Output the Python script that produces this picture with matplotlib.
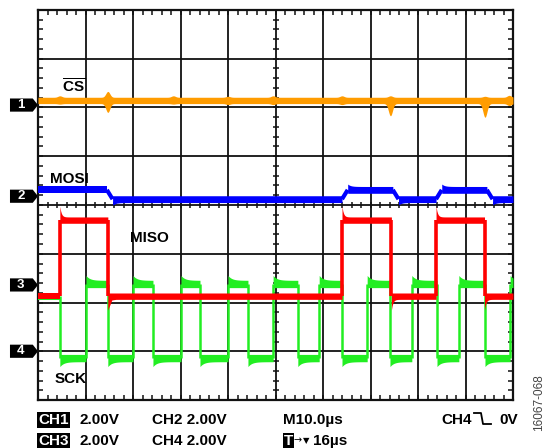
import numpy as np
import matplotlib
matplotlib.use("Agg")
import matplotlib.pyplot as plt
from matplotlib.patches import Polygon
from matplotlib.lines import Line2D
from matplotlib.transforms import blended_transform_factory

plt.rcParams['font.family'] = ['Liberation Sans', 'DejaVu Sans']
plt.rcParams['mathtext.fontset'] = 'custom'
plt.rcParams['mathtext.rm'] = 'Liberation Sans'
plt.rcParams['mathtext.bf'] = 'Liberation Sans:bold'

# scope screen: 10 us/div x 10 div, 8 vertical divisions
t_span = 100.0
n_vdiv = 8

# channel ground markers (divisions from bottom of screen)
gnd_labels = ['1', '2', '3', '4']
gnd_levels = [6.05, 4.18, 2.36, 1.00]

# CH1 - CS (stays low, small glitches)
cs_level = 6.14
cs_glitch_t = [4.6, 14.7, 28.5, 40.0, 49.5, 64.0, 74.2, 94.1, 99.2]
cs_glitch_up = [0.03, 0.12, 0.03, 0.02, 0.03, 0.03, 0.03, 0.02, 0.04]
cs_glitch_dn = [0.01, 0.18, 0.01, 0.02, 0.02, 0.02, 0.25, 0.28, 0.04]

# CH2 - MOSI
mosi_high = 4.31
mosi_low = 4.12
mosi_rise = [64.0, 83.8]
mosi_fall = [14.5, 74.7, 94.5]

# CH3 - MISO
miso_high = 3.69
miso_low = 2.13
miso_rise = [4.6, 64.0, 83.8]
miso_fall = [14.7, 74.4, 94.0]

# CH4 - SCK
sck_idle = 2.13
sck_high = 2.38
sck_low = 0.86
sck_fall = [4.6, 14.7, 24.2, 34.1, 44.2, 54.7, 64.0, 74.1, 84.0, 94.1]
sck_rise = [10.1, 20.0, 30.1, 40.0, 49.5, 59.2, 69.3, 78.7, 88.6, 99.4]

labels = ['CS', 'MOSI', 'MISO', 'SCK']
label_pos = [(5.0, 6.30), (2.5, 4.45), (19.4, 3.24), (3.4, 0.35)]


def build_segments(start, rises, falls, hi, lo):
    edges = sorted([(t, hi) for t in rises] + [(t, lo) for t in falls])
    segs = []
    t0, lvl = 0.0, start
    for t, new in edges:
        segs.append((t0, t, lvl))
        t0, lvl = t, new
    segs.append((t0, t_span, lvl))
    return segs


def draw_trace(ax, segs, color, half, over, tau, ramp, edge_lw, z):
    prev = None
    for t0, t1, lvl in segs:
        start = t0 + (ramp if prev is not None else 0)
        if prev is not None:
            ax.plot([t0, start], [prev, lvl], color=color, lw=edge_lw,
                    zorder=z, solid_capstyle='butt')
        tt = np.linspace(start, t1, 60)
        decay = np.exp(-(tt - start) / tau) if prev is not None else 0 * tt
        upper = lvl + half + np.zeros_like(tt)
        lower = lvl - half + np.zeros_like(tt)
        if prev is not None and lvl > prev:
            upper = upper + over * decay
        elif prev is not None:
            lower = lower - over * decay
        ax.fill_between(tt, lower, upper, color=color, lw=0, zorder=z)
        prev = lvl


fig = plt.figure(figsize=(5.46, 4.48), dpi=100)
ax = fig.add_axes([38 / 546, 48 / 448, 475 / 546, 390 / 448])
ax.set_xlim(0, t_span)
ax.set_ylim(0, n_vdiv)

# graticule
ax.set_xticks(np.arange(0, t_span + 1, 10))
ax.set_yticks(np.arange(0, n_vdiv + 1, 1))
ax.tick_params(labelbottom=False, labelleft=False, length=0)
ax.grid(True, color='#111111', lw=1.3)
for s in ax.spines.values():
    s.set_linewidth(1.6)
    s.set_color('#111111')
xm = np.arange(0, t_span + 0.1, 2)
ym = np.arange(0, n_vdiv + 0.01, 0.2)
# center cross ticks
ax.plot(xm, np.full_like(xm, n_vdiv / 2), ls='none', marker='|', ms=5,
        mew=1.1, color='#111111', zorder=2)
ax.plot(np.full_like(ym, t_span / 2), ym, ls='none', marker='_', ms=5,
        mew=1.1, color='#111111', zorder=2)
# border ticks (outer half clipped away by the axes)
for yb in (0, n_vdiv):
    ax.plot(xm, np.full_like(xm, yb), ls='none', marker='|', ms=7,
            mew=1.1, color='#111111', zorder=2)
for xb in (0, t_span):
    ax.plot(np.full_like(ym, xb), ym, ls='none', marker='_', ms=7,
            mew=1.1, color='#111111', zorder=2)

# CS trace
tt = np.linspace(0, t_span, 1000)
up = np.full_like(tt, cs_level + 0.07)
dn = np.full_like(tt, cs_level - 0.06)
for tg, a, b in zip(cs_glitch_t, cs_glitch_up, cs_glitch_dn):
    w = np.exp(-((tt - tg) / 0.6) ** 2)
    up += a * w
    dn -= b * w
ax.fill_between(tt, dn, up, color='#ff9c00', lw=0, zorder=3)

# MOSI trace
mosi_segs = build_segments(mosi_high, mosi_rise, mosi_fall, mosi_high, mosi_low)
draw_trace(ax, mosi_segs, '#0000ff', 0.07, 0.05, 0.6, 1.2, 3.0, 3)

# SCK trace (under MISO)
sck_segs = build_segments(sck_idle, sck_rise, sck_fall, sck_high, sck_low)
draw_trace(ax, sck_segs, '#22ee22', 0.075, 0.10, 0.8, 0.0, 1.8, 4)

# MISO trace
miso_segs = build_segments(miso_low, miso_rise, miso_fall, miso_high, miso_low)
draw_trace(ax, miso_segs, '#ff0000', 0.065, 0.22, 0.3, 0.0, 2.6, 5)

# trace labels
for lab, (lx, ly) in zip(labels, label_pos):
    txt = r'$\overline{\mathbf{CS}}$' if lab == 'CS' else lab
    ax.text(lx, ly, txt, fontsize=11, fontweight='bold', ha='left',
            va='baseline', zorder=6)

# ground markers
tr = blended_transform_factory(ax.transAxes, ax.transData)
hw = 0.135
for lab, g in zip(gnd_labels, gnd_levels):
    pts = [(-0.059, g - hw), (-0.011, g - hw), (0.0, g),
           (-0.011, g + hw), (-0.059, g + hw)]
    ax.add_patch(Polygon(pts, closed=True, fc='black', ec='none',
                         transform=tr, clip_on=False))
    ax.text(-0.036, g, lab, color='white', fontsize=9.5, fontweight='bold',
            ha='center', va='center', transform=tr, clip_on=False)


def fx(px):
    return px / 546


def fy(py):
    return 1 - py / 448


box = dict(boxstyle='square,pad=0.08', fc='black', ec='none')
r1, r2 = 424, 445
fig.text(fx(38), fy(r1), 'CH1', color='white', fontsize=11, fontweight='bold', bbox=box)
fig.text(fx(79), fy(r1), '2.00V', fontsize=11, fontweight='bold')
fig.text(fx(152), fy(r1), 'CH2 2.00V', fontsize=11, fontweight='bold')
fig.text(fx(283), fy(r1), 'M10.0µs', fontsize=11, fontweight='bold')
fig.text(fx(441), fy(r1), 'CH4', fontsize=11, fontweight='bold')
fig.text(fx(499), fy(r1), '0V', fontsize=11, fontweight='bold')
fig.add_artist(Line2D([fx(474), fx(481), fx(483), fx(491)],
                      [fy(413), fy(413), fy(424), fy(424)],
                      transform=fig.transFigure, color='black', lw=1.3))

fig.text(fx(38), fy(r2), 'CH3', color='white', fontsize=11, fontweight='bold', bbox=box)
fig.text(fx(79), fy(r2), '2.00V', fontsize=11, fontweight='bold')
fig.text(fx(152), fy(r2), 'CH4 2.00V', fontsize=11, fontweight='bold')
fig.text(fx(284), fy(r2), 'T', color='white', fontsize=11, fontweight='bold',
         bbox=dict(boxstyle='square,pad=0.05', fc='black', ec='none'))
fig.text(fx(294), fy(r2 - 2), '→', fontsize=7, family=['DejaVu Sans'])
fig.text(fx(303), fy(r2 - 2), '▼', fontsize=6, family=['DejaVu Sans'])
fig.text(fx(313), fy(r2), '16µs', fontsize=11, fontweight='bold')

fig.text(fx(539), fy(403), '16067-068', rotation=90, fontsize=8.5,
         color='#444444', ha='center', va='center')

fig.savefig('out.png', dpi=100)
